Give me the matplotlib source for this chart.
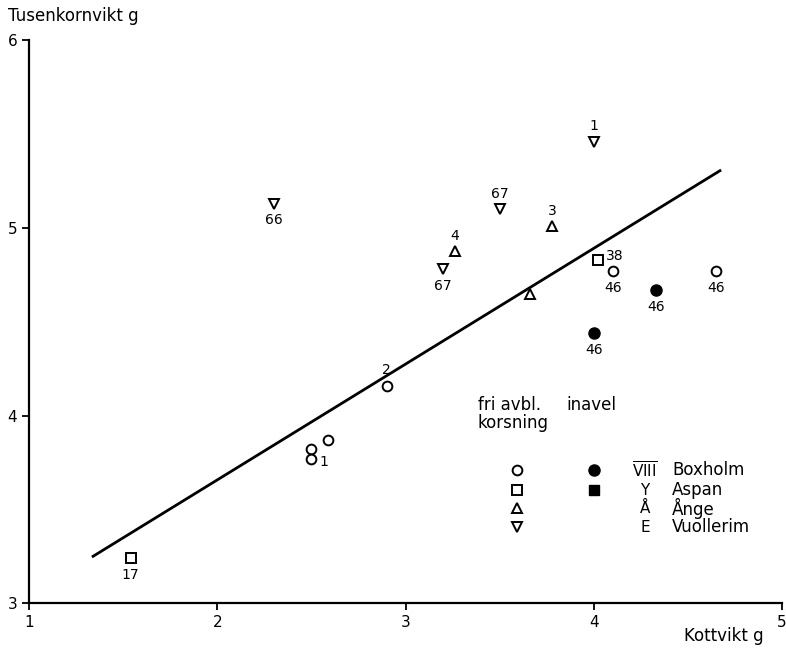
import matplotlib.pyplot as plt

# fri avbl. korsning (open) and inavel (filled) points, x = Kottvikt g, y = Tusenkornvikt g
boxholm_x = [2.50, 2.50, 2.59, 2.90, 4.10, 4.65]
boxholm_y = [3.82, 3.77, 3.87, 4.16, 4.77, 4.77]
boxholm_lab = ['', '1', '', '2', '46', '46']
boxholm_inv_x = [4.33, 4.00]
boxholm_inv_y = [4.67, 4.44]
boxholm_inv_lab = ['46', '46']

aspan_x = [1.54, 4.02]
aspan_y = [3.24, 4.83]
aspan_lab = ['17', '38']

ange_x = [3.26, 3.78, 3.66]
ange_y = [4.875, 5.01, 4.65]
ange_lab = ['4', '3', '']

vuoll_x = [2.30, 3.20, 3.50, 4.00]
vuoll_y = [5.13, 4.78, 5.10, 5.46]
vuoll_lab = ['66', '67', '67', '1']

line_x = [1.34, 4.67]
line_y = [3.25, 5.305]

fig = plt.figure(figsize=(7.86, 6.5), dpi=100)
ax = fig.add_axes([0.037, 0.072, 0.958, 0.866])
ax.set_xlim(1, 5)
ax.set_ylim(3, 6)
for s in ['top', 'right']:
    ax.spines[s].set_visible(False)
for s in ['left', 'bottom']:
    ax.spines[s].set_linewidth(1.6)
ax.set_xticks([1, 2, 3, 4, 5])
ax.set_yticks([3, 4, 5, 6])
ax.tick_params(width=1.3, length=5, labelsize=11)

ax.plot(line_x, line_y, color='black', lw=2)

ms = 7
ax.plot(boxholm_x, boxholm_y, 'o', mfc='white', mec='black', mew=1.4, ms=ms)
ax.plot(boxholm_inv_x, boxholm_inv_y, 'o', color='black', ms=ms + 1)
ax.plot(aspan_x, aspan_y, 's', mfc='white', mec='black', mew=1.4, ms=ms - 0.5)
ax.plot(ange_x, ange_y, '^', mfc='white', mec='black', mew=1.4, ms=ms)
ax.plot(vuoll_x, vuoll_y, 'v', mfc='white', mec='black', mew=1.4, ms=ms)

# point labels: offsets in points (below, above or right)
def label(xs, ys, labs, offs):
    for x, y, t, o in zip(xs, ys, labs, offs):
        if t:
            ax.annotate(t, (x, y), xytext=o, textcoords='offset points',
                        ha='center', va='center', fontsize=10)

below = (0, -12)
above = (0, 11)
label(boxholm_x, boxholm_y, boxholm_lab, [None, (9, -2), None, above, below, below])
label(boxholm_inv_x, boxholm_inv_y, boxholm_inv_lab, [below, below])
label(aspan_x, aspan_y, aspan_lab, [below, (12, 3)])
label(ange_x, ange_y, ange_lab, [above, above, None])
label(vuoll_x, vuoll_y, vuoll_lab, [below, below, above, above])

# axis titles
fig.text(0.01, 0.975, 'Tusenkornvikt g', fontsize=12, va='center')
fig.text(0.87, 0.022, 'Kottvikt g', fontsize=12, va='center')

# legend drawn by hand
tr = ax.transAxes
ax.text(0.596, 0.352, 'fri avbl.', transform=tr, fontsize=12, va='center')
ax.text(0.713, 0.352, 'inavel', transform=tr, fontsize=12, va='center')
ax.text(0.596, 0.321, 'korsning', transform=tr, fontsize=12, va='center')
rows = [0.236, 0.201, 0.169, 0.135]
codes = [r'$\overline{\mathrm{VIII}}$', 'Y', 'Å', 'E']
names = ['Boxholm', 'Aspan', 'Ånge', 'Vuollerim']
open_mk = ['o', 's', '^', 'v']
for r, c, n, m in zip(rows, codes, names, open_mk):
    ax.plot(0.648, r, m, transform=tr, mfc='white', mec='black', mew=1.4,
            ms=7, clip_on=False)
    ax.text(0.818, r, c, transform=tr, fontsize=11, ha='center', va='center')
    ax.text(0.854, r, n, transform=tr, fontsize=12, va='center')
ax.plot(0.750, rows[0], 'o', transform=tr, color='black', ms=8, clip_on=False)
ax.plot(0.750, rows[1], 's', transform=tr, color='black', ms=7, clip_on=False)

fig.savefig('out.png', dpi=100)
